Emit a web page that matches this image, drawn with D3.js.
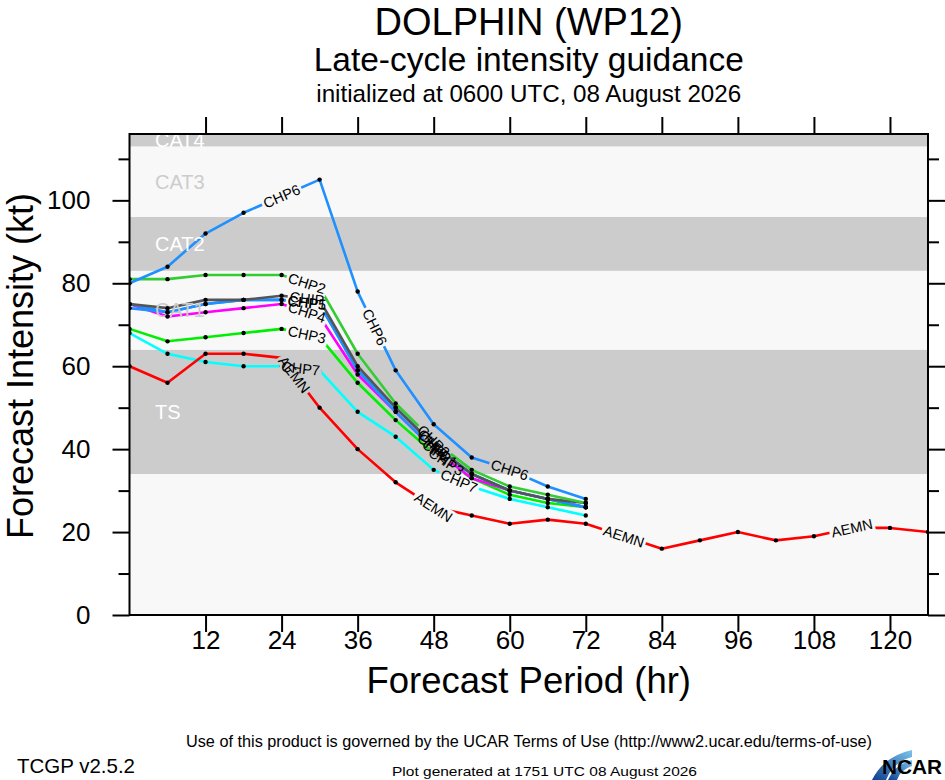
<!DOCTYPE html>
<html><head><meta charset="utf-8">
<script src="https://cdn.jsdelivr.net/npm/d3@7"></script>
<style>
html,body{margin:0;padding:0;background:#fff;}
svg{display:block;font-family:"Liberation Sans",Arial,Helvetica,sans-serif;}
</style>
</head><body>
<svg id="chart" width="945" height="780"></svg>
<script>
// ---------------- data ----------------
const titleMain = "DOLPHIN (WP12)";
const titleSub = "Late-cycle intensity guidance";
const titleInit = "initialized at 0600 UTC, 08 August 2026";
const xAxisTitle = "Forecast Period (hr)";
const yAxisTitle = "Forecast Intensity (kt)";
const footerTerms = "Use of this product is governed by the UCAR Terms of Use (http://www2.ucar.edu/terms-of-use)";
const footerVersion = "TCGP v2.5.2";
const footerGenerated = "Plot generated at 1751 UTC   08 August 2026";

const xTickValues = [12, 24, 36, 48, 60, 72, 84, 96, 108, 120];
const yMajorTicks = [0, 20, 40, 60, 80, 100];
const yMinorTicks = [10, 30, 50, 70, 90, 110];

const bandNames = ["", "TS", "CAT1", "CAT2", "CAT3", "CAT4"];
const bandLow  = [0, 34, 64, 83, 96, 113];
const bandHigh = [34, 64, 83, 96, 113, 137];
const bandShaded = [false, true, false, true, false, true];

const hoursCHP  = [0, 6, 12, 18, 24, 30, 36, 42, 48, 54, 60, 66, 72];
const hoursAEMN = [0, 6, 12, 18, 24, 30, 36, 42, 48, 54, 60, 66, 72, 78, 84, 90, 96, 102, 108, 114, 120, 126];

const valuesCHP7 = [68, 63, 61, 60, 60, 59, 49, 43, 35, 31, 28, 26, 24];
const valuesCHP3 = [69, 66, 67, 68, 69, 67, 56, 47, 39, 33, 29, 27, 26];
const valuesCHP4 = [75, 72, 73, 74, 75, 72, 58, 49, 40, 33, 30, 28, 26];
const valuesCHP1 = [75, 73, 75, 76, 76, 75, 59, 49, 40, 34, 30, 28, 26];
const valuesCHP5 = [74, 73, 75, 76, 76, 75, 59, 50, 41, 34, 30, 28, 26];
const valuesCHIP = [75, 74, 76, 76, 77, 76, 60, 50, 41, 34, 30, 28, 27];
const valuesCHP2 = [81, 81, 82, 82, 82, 79, 63, 51, 42, 35, 31, 29, 27];
const valuesCHP6 = [80, 84, 92, 97, 101, 105, 78, 59, 46, 38, 35, 31, 28];
const valuesAEMN = [60, 56, 63, 63, 62, 50, 40, 32, 26, 24, 22, 23, 22, 19, 16, 18, 20, 18, 19, 21, 21, 20];

const labelHoursCHP7 = [27, 52];
const labelHoursCHP3 = [28, 50];
const labelHoursCHP4 = [28, 48];
const labelHoursCHP1 = [28, 49];
const labelHoursCHP5 = [28, 48];
const labelHoursCHIP = [28, 48];
const labelHoursCHP2 = [28, 48];
const labelHoursCHP6 = [24, 38.7, 60];
const labelHoursAEMN = [26, 48, 78, 114];

const seriesNames  = ["CHP7", "CHP3", "CHP4", "CHP1", "CHP5", "CHIP", "CHP2", "CHP6", "AEMN"];
const seriesColors = ["#00ffff", "#00ee00", "#ff00ff", "#1e90ff", "#1e90ff", "#555555", "#33cc33", "#1e90ff", "#ff0000"];
const seriesHours  = [hoursCHP, hoursCHP, hoursCHP, hoursCHP, hoursCHP, hoursCHP, hoursCHP, hoursCHP, hoursAEMN];
const seriesValues = [valuesCHP7, valuesCHP3, valuesCHP4, valuesCHP1, valuesCHP5, valuesCHIP, valuesCHP2, valuesCHP6, valuesAEMN];
const seriesLabelHours = [labelHoursCHP7, labelHoursCHP3, labelHoursCHP4, labelHoursCHP1, labelHoursCHP5, labelHoursCHIP, labelHoursCHP2, labelHoursCHP6, labelHoursAEMN];

// ---------------- layout ----------------
const W = 945, H = 780;
const plot = {left: 129.5, right: 928, top: 134, bottom: 615};
const svg = d3.select("#chart");
const defs = svg.append("defs");

const x = d3.scaleLinear().domain([0, 126]).range([plot.left, plot.right]);
const y = d3.scaleLinear().domain([0, 116]).range([plot.bottom, plot.top]);

defs.append("clipPath").attr("id", "plotclip")
  .append("rect").attr("x", plot.left).attr("y", plot.top)
  .attr("width", plot.right - plot.left).attr("height", plot.bottom - plot.top);

// titles
const cx = (plot.left + plot.right) / 2;
svg.append("text").attr("x", cx).attr("y", 35)
  .attr("text-anchor", "middle").attr("font-size", 38).text(titleMain);
svg.append("text").attr("x", cx).attr("y", 71)
  .attr("text-anchor", "middle").attr("font-size", 33.5).text(titleSub);
svg.append("text").attr("x", cx).attr("y", 102)
  .attr("text-anchor", "middle").attr("font-size", 24.2).text(titleInit);

// bands
const gPlot = svg.append("g").attr("clip-path", "url(#plotclip)");
const bands = bandNames.map((n, i) => ({name: n, lo: bandLow[i], hi: bandHigh[i], shaded: bandShaded[i]}));
gPlot.selectAll("rect.band").data(bands).join("rect").attr("class", "band")
  .attr("x", plot.left).attr("width", plot.right - plot.left)
  .attr("y", d => y(d.hi)).attr("height", d => y(d.lo) - y(d.hi))
  .attr("fill", d => d.shaded ? "#cccccc" : "#f8f8f8");

const gLines = gPlot.append("g");
const gBandLabels = gPlot.append("g");
const gDots = gPlot.append("g");
const gLabels = svg.append("g").attr("clip-path", "url(#plotclip)");

gBandLabels.selectAll("text.bandlab").data(bands.filter(d => d.name)).join("text").attr("class", "bandlab")
  .attr("x", 155)
  .attr("y", d => y((Math.max(d.lo, 0) + Math.min(d.hi, 116)) / 2))
  .attr("dy", "0.36em").attr("font-size", 20)
  .attr("fill", d => d.shaded ? "#ffffff" : "#cccccc")
  .text(d => d.name);

// series
const line = d3.line().x(d => x(d.h)).y(d => y(d.v));

seriesNames.forEach((name, i) => {
  const pts = seriesHours[i].map((h, k) => ({h: h, v: seriesValues[i][k]}));
  const mask = defs.append("mask").attr("id", "mask" + i)
    .attr("maskUnits", "userSpaceOnUse").attr("x", 0).attr("y", 0).attr("width", W).attr("height", H);
  mask.append("rect").attr("x", 0).attr("y", 0).attr("width", W).attr("height", H).attr("fill", "#fff");

  gLines.append("g").attr("mask", "url(#mask" + i + ")")
    .append("path").datum(pts).attr("d", line).attr("fill", "none")
    .attr("stroke", seriesColors[i]).attr("stroke-width", 2.6).attr("stroke-linejoin", "round");
  gDots.append("g").attr("mask", "url(#mask" + i + ")")
    .selectAll("circle").data(pts).join("circle")
    .attr("cx", d => x(d.h)).attr("cy", d => y(d.v)).attr("r", 2.2).attr("fill", "#000");

  seriesLabelHours[i].forEach(lh => {
    let k = 0;
    while (k < pts.length - 2 && pts[k + 1].h < lh) k++;
    const a = pts[k], b = pts[k + 1];
    const t = (lh - a.h) / (b.h - a.h);
    const px = x(a.h) + t * (x(b.h) - x(a.h));
    const py = y(a.v) + t * (y(b.v) - y(a.v));
    let ang = Math.atan2(y(b.v) - y(a.v), x(b.h) - x(a.h)) * 180 / Math.PI;
    if (ang > 90) ang -= 180;
    if (ang < -90) ang += 180;
    const txt = gLabels.append("text")
      .attr("transform", `translate(${px},${py}) rotate(${ang})`)
      .attr("text-anchor", "middle").attr("dy", "0.36em")
      .attr("font-size", 14.5).attr("fill", "#000").text(name);
    const len = txt.node().getComputedTextLength();
    mask.append("rect")
      .attr("transform", `translate(${px},${py}) rotate(${ang})`)
      .attr("x", -len / 2 - 2).attr("y", -7.5).attr("width", len + 4).attr("height", 15)
      .attr("fill", "#000");
  });
});

// axes
function styleAxis(g) {
  g.select(".domain").remove();
  g.selectAll(".tick line").attr("stroke", "#000").attr("stroke-width", 2);
}
svg.append("g").attr("transform", `translate(${plot.left},0)`)
  .call(d3.axisLeft(y).tickValues(yMajorTicks).tickSize(17).tickPadding(22).tickFormat(d3.format("d")))
  .call(styleAxis)
  .call(g => g.selectAll("text").attr("font-size", 26).attr("fill", "#000").attr("font-family", null));
svg.append("g").attr("transform", `translate(${plot.left},0)`)
  .call(d3.axisLeft(y).tickValues(yMinorTicks).tickSize(11).tickFormat(""))
  .call(styleAxis);
svg.append("g").attr("transform", `translate(${plot.right},0)`)
  .call(d3.axisRight(y).tickValues(yMajorTicks).tickSize(17).tickFormat(""))
  .call(styleAxis);
svg.append("g").attr("transform", `translate(${plot.right},0)`)
  .call(d3.axisRight(y).tickValues(yMinorTicks).tickSize(11).tickFormat(""))
  .call(styleAxis);
svg.append("g").attr("transform", `translate(0,${plot.top})`)
  .call(d3.axisTop(x).tickValues(xTickValues).tickSize(17).tickFormat(""))
  .call(styleAxis);
svg.append("g").attr("transform", `translate(0,${plot.bottom})`)
  .call(d3.axisBottom(x).tickValues(xTickValues).tickSize(17).tickPadding(0).tickFormat(d3.format("d")))
  .call(styleAxis)
  .call(g => g.selectAll("text").attr("font-size", 26).attr("fill", "#000").attr("font-family", null)
        .attr("y", 34).attr("dy", 0));

// frame
svg.append("rect").attr("x", plot.left).attr("y", plot.top)
  .attr("width", plot.right - plot.left).attr("height", plot.bottom - plot.top)
  .attr("fill", "none").attr("stroke", "#000").attr("stroke-width", 2);

// axis titles
svg.append("text").attr("x", cx).attr("y", 693)
  .attr("text-anchor", "middle").attr("font-size", 36.5).text(xAxisTitle);
svg.append("text").attr("transform", `translate(33,366) rotate(-90)`)
  .attr("text-anchor", "middle").attr("font-size", 36).text(yAxisTitle);

// footer
svg.append("text").attr("x", 186).attr("y", 747).attr("font-size", 16)
  .attr("textLength", 686).attr("lengthAdjust", "spacingAndGlyphs").text(footerTerms);
svg.append("text").attr("x", 17).attr("y", 773).attr("font-size", 21)
  .attr("textLength", 118).attr("lengthAdjust", "spacingAndGlyphs").text(footerVersion);
svg.append("text").attr("x", 392).attr("y", 776).attr("font-size", 13.5)
  .attr("textLength", 305).attr("lengthAdjust", "spacingAndGlyphs").text(footerGenerated);

// NCAR logo
const grad = defs.append("linearGradient").attr("id", "ncargrad")
  .attr("x1", "0").attr("y1", "1").attr("x2", "1").attr("y2", "0");
grad.append("stop").attr("offset", "0").attr("stop-color", "#0b3f8f");
grad.append("stop").attr("offset", "1").attr("stop-color", "#7cc4ec");
svg.append("path").attr("d", "M872,780 Q884,756 912,750 L912,757 Q893,762 886,780 Z").attr("fill", "url(#ncargrad)");
svg.append("path").attr("d", "M888,780 Q894,765 912,760 L912,766 Q900,770 897,780 Z").attr("fill", "url(#ncargrad)");
svg.append("text").attr("x", 882).attr("y", 774).attr("font-size", 21).attr("font-weight", "bold")
  .attr("textLength", 60).attr("lengthAdjust", "spacingAndGlyphs").text("NCAR");
</script>
</body></html>
